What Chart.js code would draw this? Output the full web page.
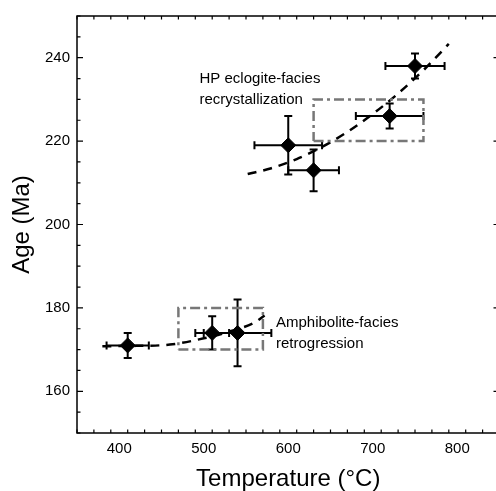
<!DOCTYPE html>
<html>
<head>
<meta charset="utf-8">
<script src="https://cdn.jsdelivr.net/npm/chart.js@4"></script>
<style>
  html, body { margin: 0; padding: 0; background: #fff; overflow: hidden; }
  #wrap { width: 510px; height: 491px; }
</style>
</head>
<body>
<div id="wrap"><canvas id="c"></canvas></div>
<script>
// samples (temperature in C, age in Ma, with errors)
const tempC   = [410, 510, 540, 600, 630, 720, 750];
const ageMa   = [171, 174, 174, 219, 213, 226, 238];
const tempErr = [25, 20, 40, 40, 30, 40, 35];
const ageErr  = [3, 4, 8, 7, 5, 3, 3];

// dashed trend curves
const hpFitT   = [552, 580, 610, 640, 670, 700, 730, 760, 790];
const hpFitAge = [212.1, 213.5, 215.7, 218.6, 222.2, 226.5, 231.4, 237.0, 243.3];
const amFitT   = [380, 420, 460, 500, 530, 560, 572];
const amFitAge = [170.8, 170.9, 171.2, 172.7, 174.3, 176.5, 178.2];

// dash-dot boxes [min, max]
const hpBoxT   = [630, 760];
const hpBoxAge = [220, 230];
const amBoxT   = [470, 570];
const amBoxAge = [170, 180];

// axes
const xTicks = [400, 500, 600, 700, 800];
const yTicks = [160, 180, 200, 220, 240];

const notes = [
  { lines: ['HP eclogite-facies', 'recrystallization'], at: [495, 234] },
  { lines: ['Amphibolite-facies', 'retrogression'], at: [585.5, 175.5] }
];

Chart.defaults.font.family = 'Arial, "Liberation Sans", Helvetica, sans-serif';
Chart.defaults.color = '#000';

const pairs = (xs, ys) => xs.map((v, i) => ({ x: v, y: ys[i] }));
const rect = (bx, by) => [
  { x: bx[0], y: by[0] }, { x: bx[1], y: by[0] },
  { x: bx[1], y: by[1] }, { x: bx[0], y: by[1] }, { x: bx[0], y: by[0] }
];

function boxSet(bx, by) {
  return {
    data: rect(bx, by), showLine: true, pointRadius: 0,
    borderColor: '#777', borderWidth: 2.5, borderDash: [10, 4, 3, 4], tension: 0
  };
}
function fitSet(xs, ys) {
  return {
    data: pairs(xs, ys), showLine: true, pointRadius: 0,
    borderColor: '#000', borderWidth: 2.5, borderDash: [9, 7],
    cubicInterpolationMode: 'monotone'
  };
}

function drawErrorBars(chart) {
  const { ctx, scales: { x, y } } = chart;
  const cap = 4;
  ctx.save();
  ctx.strokeStyle = '#000';
  ctx.lineWidth = 2;
  tempC.forEach((t, i) => {
    const px = x.getPixelForValue(t), py = y.getPixelForValue(ageMa[i]);
    const x0 = x.getPixelForValue(t - tempErr[i]), x1 = x.getPixelForValue(t + tempErr[i]);
    const y0 = y.getPixelForValue(ageMa[i] - ageErr[i]), y1 = y.getPixelForValue(ageMa[i] + ageErr[i]);
    ctx.beginPath();
    ctx.moveTo(x0, py); ctx.lineTo(x1, py);
    ctx.moveTo(px, y0); ctx.lineTo(px, y1);
    ctx.moveTo(x0, py - cap); ctx.lineTo(x0, py + cap);
    ctx.moveTo(x1, py - cap); ctx.lineTo(x1, py + cap);
    ctx.moveTo(px - cap, y0); ctx.lineTo(px + cap, y0);
    ctx.moveTo(px - cap, y1); ctx.lineTo(px + cap, y1);
    ctx.stroke();
  });
  ctx.restore();
}

const framePlugin = {
  id: 'frame',
  beforeDatasetDraw(chart, args) {
    if (args.index === 4) drawErrorBars(chart);
  },
  afterDraw(chart) {
    const { ctx, chartArea: a, scales: { x, y } } = chart;
    ctx.save();
    ctx.strokeStyle = '#000';
    ctx.lineWidth = 1.5;
    ctx.strokeRect(a.left, a.top, a.right - a.left, a.bottom - a.top);
    ctx.lineWidth = 1.2;
    ctx.beginPath();
    for (let v = x.min; v <= x.max; v += 20) {
      const p = x.getPixelForValue(v);
      const len = v % 100 === 0 ? 6 : 3.5;
      ctx.moveTo(p, a.bottom); ctx.lineTo(p, a.bottom - len);
      ctx.moveTo(p, a.top); ctx.lineTo(p, a.top + len);
    }
    for (let v = y.min; v <= y.max; v += 5) {
      const p = y.getPixelForValue(v);
      const len = v % 20 === 0 ? 6 : 3.5;
      ctx.moveTo(a.left, p); ctx.lineTo(a.left + len, p);
      ctx.moveTo(a.right, p); ctx.lineTo(a.right - len, p);
    }
    ctx.stroke();

    ctx.fillStyle = '#000';
    ctx.font = '15px Arial, "Liberation Sans", sans-serif';
    ctx.textAlign = 'left';
    ctx.textBaseline = 'alphabetic';
    notes.forEach(n => {
      const px = x.getPixelForValue(n.at[0]), py = y.getPixelForValue(n.at[1]);
      n.lines.forEach((line, i) => ctx.fillText(line, px, py + i * 21));
    });
    ctx.restore();
  }
};

new Chart(document.getElementById('c'), {
  type: 'scatter',
  data: {
    datasets: [
      boxSet(hpBoxT, hpBoxAge),
      boxSet(amBoxT, amBoxAge),
      fitSet(hpFitT, hpFitAge),
      fitSet(amFitT, amFitAge),
      {
        data: pairs(tempC, ageMa),
        pointStyle: 'rectRot', pointRadius: 7.5,
        backgroundColor: '#000', borderColor: '#000', borderWidth: 1
      }
    ]
  },
  options: {
    responsive: true,
    maintainAspectRatio: false,
    animation: false,
    layout: { padding: { top: 13, right: 10.5, left: 0, bottom: 0 } },
    plugins: { legend: { display: false }, tooltip: { enabled: false } },
    scales: {
      x: {
        type: 'linear', min: 350, max: 850,
        afterBuildTicks: s => { s.ticks = xTicks.map(v => ({ value: v })); },
        afterFit: s => { s.height = 58; },
        ticks: { font: { size: 15 }, color: '#000', padding: 7, maxRotation: 0 },
        grid: { display: false, drawTicks: false },
        border: { display: false },
        title: {
          display: true, text: 'Temperature (°C)', color: '#000',
          font: { size: 24, lineHeight: 1 }, padding: { top: 0, bottom: 0 }
        }
      },
      y: {
        type: 'linear', min: 150, max: 250,
        afterBuildTicks: s => { s.ticks = yTicks.map(v => ({ value: v })); },
        afterFit: s => { s.width = 77; },
        ticks: { font: { size: 15 }, color: '#000', padding: 7 },
        grid: { display: false, drawTicks: false },
        border: { display: false },
        title: {
          display: true, text: 'Age (Ma)', color: '#000',
          font: { size: 24, lineHeight: 1 }, padding: { top: 10.5, bottom: 0 }
        }
      }
    }
  },
  plugins: [framePlugin]
});
</script>
</body>
</html>
